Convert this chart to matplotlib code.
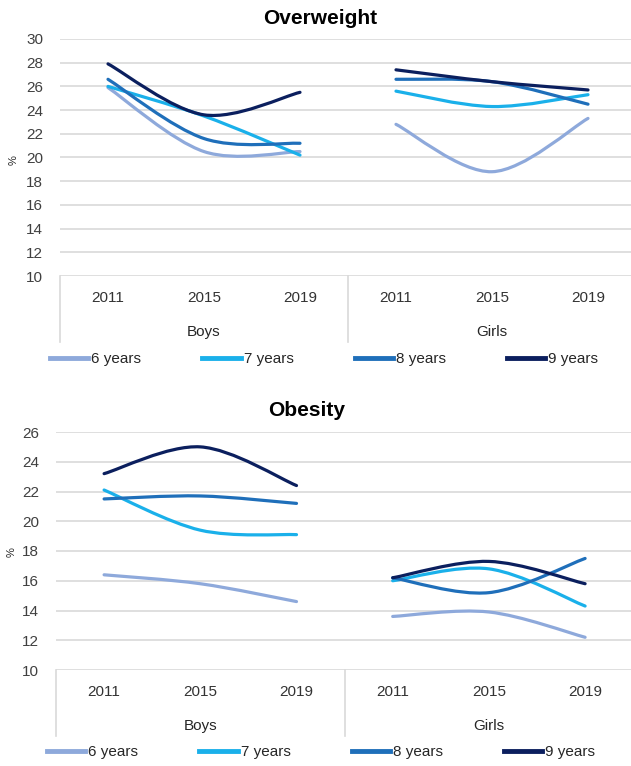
import matplotlib
matplotlib.use("Agg")
import matplotlib.pyplot as plt
from matplotlib.path import Path
from matplotlib.patches import PathPatch
from matplotlib.lines import Line2D
import numpy as np

plt.rcParams['font.family'] = ['Liberation Sans', 'DejaVu Sans']

# data
years = ['2011', '2015', '2019']
groups = ['Boys', 'Girls']
ages = ['6 years', '7 years', '8 years', '9 years']
colors = ['#8EA9DB', '#1AB0EA', '#1F6FBA', '#0B1F5E']

overweight_boys = [[25.9, 20.5, 20.5],
                   [26.0, 23.5, 20.2],
                   [26.6, 21.6, 21.2],
                   [27.9, 23.6, 25.5]]
overweight_girls = [[22.8, 18.8, 23.3],
                    [25.6, 24.3, 25.3],
                    [26.6, 26.4, 24.5],
                    [27.4, 26.4, 25.7]]
obesity_boys = [[16.4, 15.8, 14.6],
                [22.1, 19.4, 19.1],
                [21.5, 21.7, 21.2],
                [23.2, 25.0, 22.4]]
obesity_girls = [[13.6, 13.9, 12.2],
                 [16.0, 16.8, 14.3],
                 [16.2, 15.2, 17.5],
                 [16.2, 17.3, 15.8]]

W, H = 631, 766


def smooth_path(xs, ys):
    # excel style smoothed line (bezier through the points)
    pts = np.column_stack([xs, ys]).astype(float)
    n = len(pts)
    verts = [pts[0]]
    codes = [Path.MOVETO]
    for i in range(n - 1):
        p0 = pts[max(i - 1, 0)]
        p1 = pts[i]
        p2 = pts[i + 1]
        p3 = pts[min(i + 2, n - 1)]
        c1 = p1 + (p2 - p0) / 6
        c2 = p2 - (p3 - p1) / 6
        verts += [c1, c2, p2]
        codes += [Path.CURVE4] * 3
    return Path(verts, codes)


def panel(rect, xmax, ylim, boys, girls, title, title_xy, pct_xy, leg_xy):
    ax = fig.add_axes(rect)
    ax.set_xlim(-0.5, xmax)
    ax.set_ylim(*ylim)
    ax.set_yticks(np.arange(ylim[0], ylim[1] + 1, 2))
    ax.set_xticks([])
    for s in ax.spines.values():
        s.set_visible(False)
    ax.grid(axis='y', color='#D9D9D9', lw=1.2)
    ax.set_axisbelow(True)
    ax.tick_params(axis='y', length=0, pad=12, labelsize=11, labelcolor='#404040')

    for k in range(4):
        for xs, vals in (([0, 1, 2], boys[k]), ([3, 4, 5], girls[k])):
            ax.add_patch(PathPatch(smooth_path(xs, vals), fill=False,
                                   edgecolor=colors[k], lw=2.3,
                                   capstyle='round', joinstyle='round'))

    # category axis
    for x in [-0.5, 2.5]:
        ax.plot([x, x], [0, -0.278], color='#D9D9D9', lw=1.2,
                transform=ax.get_xaxis_transform(), clip_on=False)
    for i in range(6):
        ax.annotate(years[i % 3], (i, 0), xycoords=('data', 'axes fraction'),
                    xytext=(0, -16), textcoords='offset points',
                    ha='center', va='center', fontsize=11, color='#333333')
    for g, gx in zip(groups, [1, 4]):
        ax.annotate(g, (gx, 0), xycoords=('data', 'axes fraction'),
                    xytext=(0, -40), textcoords='offset points',
                    ha='center', va='center', fontsize=11, color='#262626')

    fig.text(title_xy[0] / W, 1 - title_xy[1] / H, title, ha='center', va='center',
             fontsize=15, fontweight='bold', color='black')
    fig.text(pct_xy[0] / W, 1 - pct_xy[1] / H, '%', rotation=90, ha='center',
             va='center', fontsize=8, color='#262626')

    handles = [Line2D([], [], color=c, lw=3.5) for c in colors]
    fig.legend(handles, ages, loc='center left',
               bbox_to_anchor=(leg_xy[0] / W, 1 - leg_xy[1] / H),
               ncol=4, frameon=False, fontsize=11, handlelength=2.5,
               handletextpad=0.2, columnspacing=4.0, borderpad=0,
               borderaxespad=0, labelcolor='#262626')
    return ax


fig = plt.figure(figsize=(W / 100, H / 100), dpi=100)

panel([60 / W, 1 - 276 / H, 571 / W, 237 / H], -0.5 + 571 / 96, (10, 30),
      overweight_boys, overweight_girls, 'Overweight', (320, 19), (14, 160), (50, 359))
panel([56 / W, 1 - 670 / H, 575 / W, 238 / H], -0.5 + 575 / 96.2, (10, 26),
      obesity_boys, obesity_girls, 'Obesity', (307, 411), (12, 552), (47, 752))

fig.savefig('out.png', dpi=100)
